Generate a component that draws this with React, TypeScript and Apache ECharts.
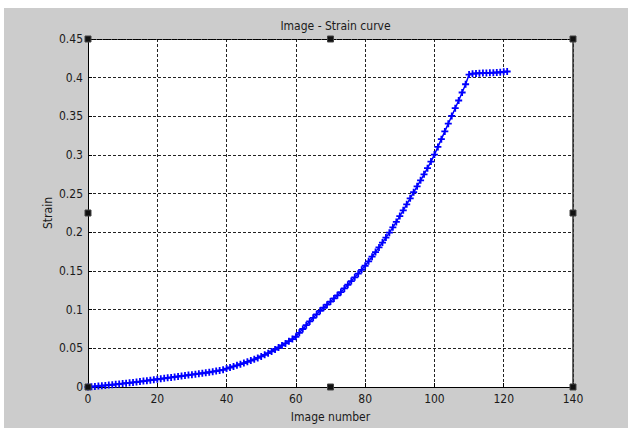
import React, { useEffect, useRef } from "react";
import * as echarts from "echarts";

// Strain value for each image number 0..121
const strain: number[] = [
  0.0, 0.0004, 0.0008, 0.0012, 0.0016, 0.002, 0.0025, 0.0029, 0.0034, 0.0039,
  0.0044, 0.0049, 0.0054, 0.0059, 0.0064, 0.007, 0.0076, 0.0082, 0.0088, 0.0094,
  0.01, 0.0106, 0.0112, 0.0118, 0.0124, 0.013, 0.0136, 0.0142, 0.0148, 0.0154,
  0.016, 0.0166, 0.0172, 0.0178, 0.0184, 0.0191, 0.0198, 0.0206, 0.0214, 0.0222,
  0.0238, 0.0252, 0.0266, 0.028, 0.0295, 0.031, 0.0326, 0.0342, 0.0358, 0.0376,
  0.0396, 0.0416, 0.0437, 0.046, 0.0485, 0.0512, 0.0538, 0.0564, 0.0592, 0.062,
  0.065, 0.07, 0.075, 0.08, 0.0848, 0.0895, 0.094, 0.0985, 0.1025, 0.1065,
  0.1105, 0.1145, 0.1185, 0.1228, 0.1275, 0.1322, 0.137, 0.1418, 0.1466, 0.1515,
  0.1568, 0.1625, 0.1685, 0.1745, 0.1805, 0.1868, 0.1932, 0.1996, 0.2065, 0.2135,
  0.221, 0.2285, 0.2362, 0.244, 0.2518, 0.2595, 0.2672, 0.275, 0.283, 0.2915,
  0.3005, 0.3105, 0.3205, 0.3305, 0.3405, 0.3505, 0.3605, 0.3705, 0.3808, 0.3915,
  0.404, 0.4052, 0.4055, 0.4057, 0.4059, 0.4061, 0.4063, 0.4065, 0.4067, 0.407,
  0.4075, 0.408,
];
const firstImage = 0;

const xMin = 0;
const xMax = 140;
const xStep = 20;
const yMin = 0;
const yMax = 0.45;
const yStep = 0.05;

const titleText = "Image - Strain curve";
const xName = "Image number";
const yName = "Strain";

const FONT = '"Liberation Sans Narrow", "DejaVu Sans Condensed", "Liberation Sans", Arial, sans-serif';
const FS = 12;
const TEXT = "#1a1a1a";
const GRID = { left: 88, top: 39, width: 485, height: 348 };

const plusSymbol =
  "path://M2.6,0h1.8v2.6h2.6v1.8h-2.6v2.6h-1.8v-2.6h-2.6v-1.8h2.6z";

function handle(cx: number, cy: number) {
  return {
    type: "rect",
    shape: { x: cx - 3, y: cy - 3, width: 6, height: 6 },
    style: { fill: "#111", stroke: "#444", lineWidth: 1 },
    z: 100,
  };
}

export default function App() {
  const ref = useRef<HTMLDivElement>(null);
  useEffect(() => {
    if (!ref.current) return;
    const chart = echarts.init(ref.current, null, { renderer: "svg" });
    const L = GRID.left;
    const T = GRID.top;
    const R = GRID.left + GRID.width;
    const B = GRID.top + GRID.height;
    const MX = L + GRID.width / 2;
    const MY = T + GRID.height / 2;
    const splitStyle = { color: "#222", type: [3, 2] as number[], width: 1 };
    chart.setOption({
      animation: false,
      backgroundColor: "#ffffff",
      title: {
        text: titleText,
        left: MX,
        textAlign: "center",
        top: 15,
        textStyle: { fontFamily: FONT, fontSize: FS, fontWeight: "normal", color: TEXT },
      },
      grid: { ...GRID, show: true, backgroundColor: "#ffffff", borderWidth: 0 },
      xAxis: [
        {
          type: "value",
          min: xMin,
          max: xMax,
          interval: xStep,
          name: xName,
          nameLocation: "middle",
          nameGap: 24,
          nameMoveOverlap: false,
          nameTextStyle: { fontFamily: FONT, fontSize: FS, color: TEXT },
          axisLine: { show: true, onZero: false, lineStyle: { color: "#000", width: 1 } },
          axisTick: { show: true, inside: true, length: 4, lineStyle: { color: "#000" } },
          axisLabel: { fontFamily: FONT, fontSize: FS, color: TEXT, margin: 6 },
          splitLine: { show: true, lineStyle: splitStyle },
        },
        {
          type: "value",
          position: "top",
          min: xMin,
          max: xMax,
          interval: xStep,
          axisLine: { show: true, onZero: false, lineStyle: { color: "#000", width: 1, type: [2, 1] } },
          axisTick: { show: false },
          axisLabel: { show: false },
          splitLine: { show: false },
        },
      ],
      yAxis: [
        {
          type: "value",
          min: yMin,
          max: yMax,
          interval: yStep,
          name: yName,
          nameLocation: "middle",
          nameGap: 34,
          nameMoveOverlap: false,
          nameTextStyle: { fontFamily: FONT, fontSize: FS, color: TEXT },
          axisLine: { show: true, onZero: false, lineStyle: { color: "#000", width: 1 } },
          axisTick: { show: true, inside: true, length: 4, lineStyle: { color: "#000" } },
          axisLabel: { fontFamily: FONT, fontSize: FS, color: TEXT, margin: 5 },
          splitLine: { show: true, lineStyle: splitStyle },
        },
        {
          type: "value",
          position: "right",
          min: yMin,
          max: yMax,
          interval: yStep,
          axisLine: { show: true, onZero: false, lineStyle: { color: "#333", width: 1.5 } },
          axisTick: { show: false },
          axisLabel: { show: false },
          splitLine: { show: false },
        },
      ],
      series: [
        {
          type: "line",
          xAxisIndex: 0,
          yAxisIndex: 0,
          data: strain.map((v, i) => [firstImage + i, v]),
          symbol: plusSymbol,
          symbolSize: 7,
          showAllSymbol: true,
          lineStyle: { color: "#0000ff", width: 1.5 },
          itemStyle: { color: "#0000ff" },
          z: 5,
        },
      ],
      graphic: [
        {
          type: "rect",
          shape: { x: 4, y: 8, width: 624, height: 420 },
          style: { fill: "#cccccc" },
          z: -100,
          silent: true,
        },
        handle(L, T),
        handle(MX, T),
        handle(R, T),
        handle(L, MY),
        handle(R, MY),
        handle(L, B),
        handle(MX, B),
        handle(R, B),
      ],
    });
    return () => chart.dispose();
  }, []);
  return (
    <div
      ref={ref}
      style={{ position: "absolute", left: 0, top: 0, width: 628, height: 429 }}
    />
  );
}
